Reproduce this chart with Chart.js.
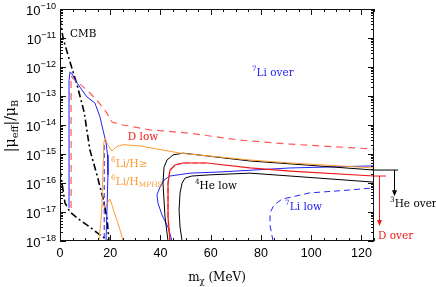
<!DOCTYPE html>
<html>
<head>
<meta charset="utf-8">
<script src="https://cdn.jsdelivr.net/npm/chart.js@4.4.1/dist/chart.umd.min.js"></script>
<style>
  html, body { margin: 0; padding: 0; background: #fff; }
  #wrap { width: 436px; height: 287px; }
</style>
</head>
<body>
<div id="wrap"><canvas id="chart"></canvas></div>
<script>
const xTicks = [0, 20, 40, 60, 80, 100, 120];
const yTickExponents = [-18, -17, -16, -15, -14, -13, -12, -11, -10];

// [m_X (MeV), |mu_eff|/mu_B]
const cmbSteep = [[0, 4.9e-11], [1.2, 1.0e-11], [4.0, 1.48e-12], [6.8, 2.4e-13], [9.6, 2.8e-14],
  [11.9, 1.38e-15], [14.7, 1.91e-16], [17.1, 3.0e-17], [18.7, 6.2e-18], [19.5, 1e-18]];
const cmbLower = [[0, 2.8e-16], [2.0, 2.04e-17], [4.0, 1.0e-17], [8.0, 5.2e-18], [11.9, 3.0e-18],
  [15.9, 1.62e-18], [19.5, 1e-18]];

const li7OverLeft = [[3.6, 1.38e-17], [3.6, 3.5e-13], [4.0, 6.8e-13], [4.8, 5.75e-13], [6.8, 2.8e-13],
  [10.7, 9.3e-14], [13.9, 5.75e-14], [15.9, 1.91e-14], [17.1, 6.8e-15], [18.3, 2.57e-15],
  [18.9, 9.3e-16], [19.1, 1.91e-16], [18.7, 1.17e-17], [18.3, 1e-18]];
const li7OverRight = [[44.6, 1e-18], [43.0, 3.0e-18], [40.6, 7.9e-18], [39.0, 2.04e-17], [38.6, 3.9e-17],
  [39.8, 7.2e-17], [41.4, 1.26e-16], [43.8, 1.74e-16], [51.8, 2.19e-16], [63.7, 2.4e-16],
  [91.6, 3.3e-16], [125, 3.9e-16]];
const li7Dashed = [[17.6, 2.04e-15], [17.6, 1e-18]];
const li7Low = [[84.8, 1e-18], [83.6, 3.5e-18], [83.6, 9.3e-18], [85.2, 1.74e-17], [88.4, 2.8e-17],
  [93.6, 3.5e-17], [99.5, 4.57e-17], [108.7, 5.2e-17], [115.4, 5.75e-17], [125, 6.8e-17]];

const dLow = [[4.4, 1.38e-17], [4.4, 4.9e-13], [6.0, 3.5e-13], [10.7, 1.62e-13], [14.7, 7.2e-14],
  [18.7, 2.57e-14], [20.7, 1.26e-14], [25.1, 1.0e-14], [35.8, 6.8e-15], [51.8, 5.2e-15],
  [71.7, 3.0e-15], [91.6, 2.19e-15], [125, 1.48e-15]];
const dOver = [[43.8, 1e-18], [43.0, 6.8e-18], [43.0, 1e-16], [43.8, 2.8e-16], [45.8, 4.17e-16],
  [49.0, 4.9e-16], [58.5, 4.9e-16], [75.6, 3.3e-16], [91.6, 2.57e-16], [125, 1.74e-16]];

const li6Upper = [[15.5, 1e-18], [16.3, 5.2e-18], [16.7, 1.74e-17], [17.1, 2.8e-16], [17.5, 2.57e-15],
  [17.9, 3.5e-15], [19.1, 2.04e-15], [20.7, 1.26e-15], [22.3, 1.74e-15], [25.1, 2.1e-15],
  [31.8, 1.9e-15], [47.8, 1.07e-15], [75.6, 6.2e-16], [91.6, 4.9e-16], [125, 3.3e-16]];
const li6Lower = [[16.7, 1.74e-17], [17.9, 1.48e-17], [19.1, 2.19e-17], [19.9, 2.8e-17], [20.7, 1.74e-17],
  [21.5, 1.0e-17], [22.7, 5.2e-18], [23.9, 2.4e-18], [25.1, 1e-18]];

const he3Over = [[43.0, 1e-18], [41.8, 6.8e-18], [41.0, 1e-16], [41.4, 3.5e-16], [42.6, 6.2e-16],
  [45.0, 9.3e-16], [49.0, 1.07e-15], [75.6, 5.75e-16], [91.6, 4.57e-16], [125, 2.8e-16]];
const he4Low = [[48.6, 1e-18], [47.8, 3.0e-18], [47.4, 1.17e-17], [47.8, 4.57e-17], [48.6, 1e-16],
  [49.8, 1.48e-16], [52.5, 1.74e-16], [59.7, 1.91e-16], [75.6, 2.19e-16], [91.6, 1.74e-16],
  [125, 1.07e-16]];

const BLUE = '#2323f5';
const RED = '#f01818';
const PINK = '#ff5a5a';
const ORANGE = '#ff9a35';

function curve(points, color, width, dash) {
  return {
    data: points.map(([x, y]) => ({ x, y })),
    showLine: true,
    borderColor: color,
    borderWidth: width,
    borderDash: dash || [],
    pointRadius: 0,
    fill: false,
    tension: 0,
  };
}

// annotations: text parts, m_X, mu, colour
const notes = [
  [[{ t: 'CMB' }], 4.0, 1.38e-11, '#000'],
  [[{ t: '7', sup: true }, { t: 'Li over' }], 76.4, 6.2e-13, BLUE],
  [[{ t: 'D low' }], 27.0, 3.9e-15, RED],
  [[{ t: '6', sup: true }, { t: 'Li/H≥' }], 20.3, 4.57e-16, ORANGE],
  [[{ t: '6', sup: true }, { t: 'Li/H' }, { t: 'MPHS', sub: true }], 20.3, 1.07e-16, ORANGE],
  [[{ t: '4', sup: true }, { t: 'He low' }], 53.7, 7.9e-17, '#000'],
  [[{ t: '7', sup: true }, { t: 'Li low' }], 89.6, 1.48e-17, BLUE],
];
const he3TipMu = 3.5e-17;
const dTipMu = 3.3e-18;

function drawRich(ctx, parts, x, y, size, family, align) {
  const widths = parts.map((p) => {
    ctx.font = `${p.sup || p.sub ? size * 0.7 : size}px ${family}`;
    return ctx.measureText(p.t).width;
  });
  const total = widths.reduce((a, b) => a + b, 0);
  let cx = align === 'center' ? x - total / 2 : align === 'right' ? x - total : x;
  ctx.textAlign = 'left';
  ctx.textBaseline = 'middle';
  parts.forEach((p, i) => {
    ctx.font = `${p.sup || p.sub ? size * 0.7 : size}px ${family}`;
    const dy = p.sup ? -size * 0.38 : p.sub ? size * 0.3 : 0;
    ctx.fillText(p.t, cx, y + dy);
    cx += widths[i];
  });
}

function arrowDown(ctx, x, y1, y2, color) {
  ctx.strokeStyle = color;
  ctx.fillStyle = color;
  ctx.beginPath();
  ctx.moveTo(x, y1);
  ctx.lineTo(x, y2 - 4);
  ctx.stroke();
  ctx.beginPath();
  ctx.moveTo(x - 2.5, y2 - 6);
  ctx.lineTo(x + 2.5, y2 - 6);
  ctx.lineTo(x, y2);
  ctx.closePath();
  ctx.fill();
}

const framePlugin = {
  id: 'frame',
  afterDatasetsDraw(chart) {
    const { ctx, chartArea: a } = chart;
    const xs = chart.scales.x;
    const ys = chart.scales.y;
    ctx.save();
    ctx.strokeStyle = '#111';
    ctx.lineWidth = 1;
    ctx.strokeRect(a.left + 0.5, a.top + 0.5, a.right - a.left - 1, a.bottom - a.top - 1);

    // x ticks, inward on bottom and top
    ctx.beginPath();
    for (let v = 0; v <= 125; v += 5) {
      const px = Math.round(xs.getPixelForValue(v)) + 0.5;
      const len = v % 20 === 0 ? 6 : 3;
      ctx.moveTo(px, a.bottom);
      ctx.lineTo(px, a.bottom - len);
      ctx.moveTo(px, a.top);
      ctx.lineTo(px, a.top + len);
    }
    // y ticks, log decades with minor ticks
    yTickExponents.forEach((e) => {
      for (let k = 1; k <= 9; k += 1) {
        if (e === -10 && k > 1) break;
        const py = Math.round(ys.getPixelForValue(k * Math.pow(10, e))) + 0.5;
        const len = k === 1 ? 6 : 3;
        ctx.moveTo(a.left, py);
        ctx.lineTo(a.left + len, py);
        ctx.moveTo(a.right, py);
        ctx.lineTo(a.right - len, py);
      }
    });
    ctx.stroke();

    // tick labels
    ctx.fillStyle = '#000';
    ctx.font = '12.5px "Liberation Sans"';
    ctx.textAlign = 'center';
    ctx.textBaseline = 'top';
    xTicks.forEach((v) => {
      ctx.fillText(String(v), xs.getPixelForValue(v), a.bottom + 6);
    });
    yTickExponents.forEach((e) => {
      const py = ys.getPixelForValue(Math.pow(10, e));
      drawRich(ctx, [{ t: '10' }, { t: '−' + Math.abs(e), sup: true }], a.left - 4, py + 2, 13, '"Liberation Sans"', 'right');
    });

    // axis titles
    ctx.fillStyle = '#000';
    drawRich(ctx, [{ t: 'm' }, { t: 'χ', sub: true }, { t: ' (MeV)' }], (a.left + a.right) / 2, 278, 12, '"DejaVu Serif"', 'center');
    ctx.save();
    ctx.translate(11, 126);
    ctx.rotate(-Math.PI / 2);
    drawRich(ctx, [{ t: '|μ' }, { t: 'eff', sub: true }, { t: '|/μ' }, { t: 'B', sub: true }], 0, 0, 14, '"DejaVu Serif"', 'center');
    ctx.restore();

    // region labels
    notes.forEach(([parts, m, mu, color]) => {
      ctx.fillStyle = color;
      drawRich(ctx, parts, xs.getPixelForValue(m), ys.getPixelForValue(mu), 10.5, '"DejaVu Serif"', 'left');
    });

    // exit arrows at the right edge
    const yHe = ys.getPixelForValue(he3Over[he3Over.length - 1][1]);
    const yD = ys.getPixelForValue(dOver[dOver.length - 1][1]);
    ctx.lineWidth = 1;
    ctx.strokeStyle = '#000';
    ctx.beginPath();
    ctx.moveTo(a.right, yHe);
    ctx.lineTo(a.right + 24, yHe);
    ctx.stroke();
    arrowDown(ctx, a.right + 20.5, yHe, ys.getPixelForValue(he3TipMu), '#000');
    ctx.strokeStyle = RED;
    ctx.beginPath();
    ctx.moveTo(a.right, yD);
    ctx.lineTo(a.right + 12, yD);
    ctx.stroke();
    arrowDown(ctx, a.right + 5.5, yD, ys.getPixelForValue(dTipMu), RED);

    ctx.fillStyle = '#000';
    drawRich(ctx, [{ t: '3', sup: true }, { t: 'He over' }], a.right + 16, ys.getPixelForValue(he3TipMu) + 8, 10.5, '"DejaVu Serif"', 'left');
    ctx.fillStyle = RED;
    drawRich(ctx, [{ t: 'D over' }], a.right + 4, ys.getPixelForValue(dTipMu) + 10, 10.5, '"DejaVu Serif"', 'left');
    ctx.restore();
  },
};

new Chart(document.getElementById('chart'), {
  type: 'scatter',
  data: {
    datasets: [
      curve(li6Upper, ORANGE, 1),
      curve(li6Lower, ORANGE, 1),
      curve(he3Over, '#000', 1),
      curve(he4Low, '#000', 1),
      curve(dOver, RED, 1.2),
      curve(dOver.slice(0, 7), PINK, 1.2, [5, 3]),
      curve(li7OverRight, BLUE, 1),
      curve(li7OverLeft, BLUE, 1),
      curve(li7Dashed, BLUE, 1, [5, 3]),
      curve(li7Low, BLUE, 1, [6, 4]),
      curve(dLow, PINK, 1.2, [7, 5]),
      curve(cmbSteep, '#000', 1.6, [7, 3, 2, 3]),
      curve(cmbLower, '#000', 1.6, [7, 3, 2, 3]),
    ],
  },
  options: {
    responsive: true,
    maintainAspectRatio: false,
    animation: false,
    layout: { padding: { left: 60, right: 62, top: 9, bottom: 46 } },
    plugins: { legend: { display: false }, tooltip: { enabled: false } },
    scales: {
      x: { type: 'linear', min: 0, max: 125, display: false },
      y: { type: 'logarithmic', min: 1e-18, max: 1e-10, display: false },
    },
  },
  plugins: [framePlugin],
});
</script>
</body>
</html>
